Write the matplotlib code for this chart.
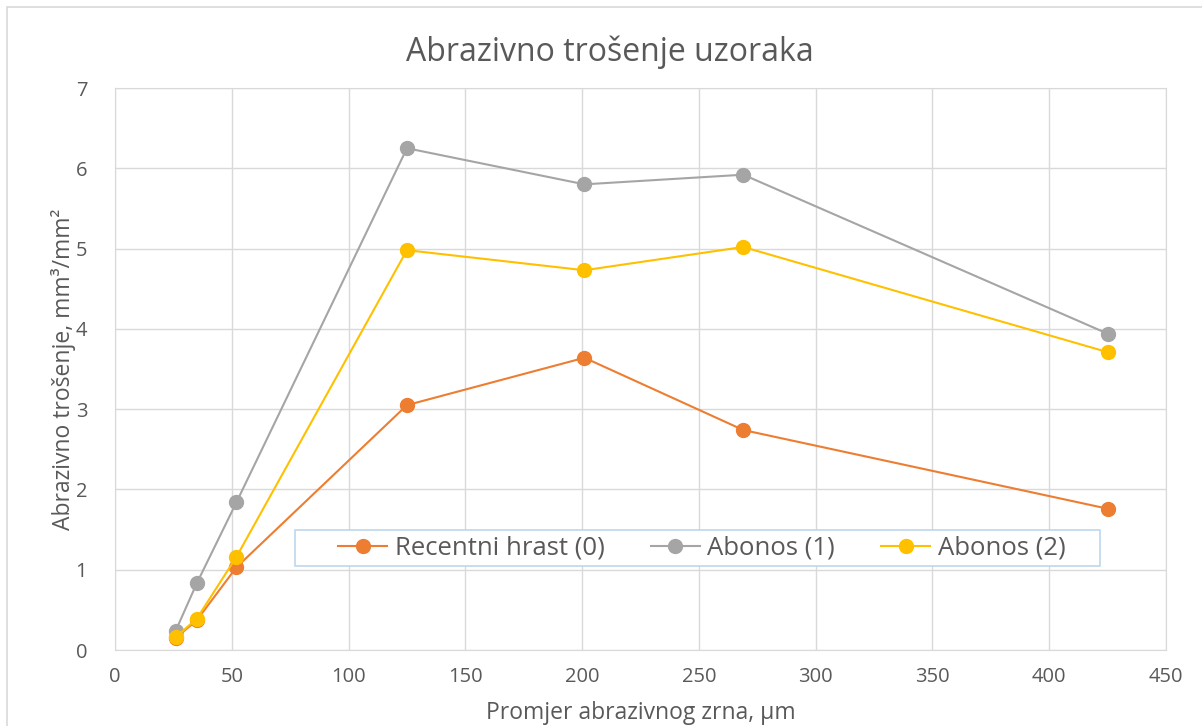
import matplotlib
matplotlib.use("Agg")
import matplotlib.pyplot as plt
from matplotlib.patches import Rectangle

plt.rcParams['font.family'] = ['Open Sans', 'DejaVu Sans']

# data
grain = [26, 35, 52, 125, 201, 269, 425]
hrast = [0.15, 0.37, 1.03, 3.05, 3.64, 2.74, 1.76]
abonos1 = [0.24, 0.83, 1.84, 6.25, 5.80, 5.92, 3.94]
abonos2 = [0.16, 0.39, 1.16, 4.98, 4.73, 5.02, 3.71]
names = ["Recentni hrast (0)", "Abonos (1)", "Abonos (2)"]
colors = ["#ed7d31", "#a5a5a5", "#ffc000"]
x_ticks = list(range(0, 451, 50))
y_ticks = list(range(0, 8))

fig = plt.figure(figsize=(12.02, 7.26), dpi=100)
ax = fig.add_axes([115/1202, 1-650/726, (1166-115)/1202, (650-88)/726])

# outer chart border
fig.patches.append(Rectangle((7/1202, -0.1), 1.2, 1 - 7/726 + 0.1, transform=fig.transFigure,
                             fill=False, edgecolor="#d9d9d9", lw=1.2))

grid_c = "#d9d9d9"
for ys, c, n in zip([hrast, abonos1, abonos2], colors, names):
    ax.plot(grain, ys, color=c, lw=1.5, marker="o", ms=10, label=n, zorder=3)

ax.set_xlim(0, 450)
ax.set_ylim(0, 7)
ax.set_xticks(x_ticks)
ax.set_yticks(y_ticks)
ax.grid(True, color=grid_c, lw=1)
for s in ax.spines.values():
    s.set_color(grid_c)
ax.tick_params(length=0, labelsize=14.5, labelcolor="#595959")
ax.tick_params(axis="x", pad=12)
ax.tick_params(axis="y", pad=20)

ax.set_xlabel("Promjer abrazivnog zrna, µm", fontsize=16.5, color="#595959", labelpad=10)
ax.set_ylabel("Abrazivno trošenje, mm³/mm²", fontsize=16.5, color="#595959", labelpad=0)
fig.text(610/1202, 1-52/726, "Abrazivno trošenje uzoraka", fontsize=23, color="#595959",
         ha="center", va="center")

# legend box drawn separately so it can be wider than its entries
ax.add_patch(Rectangle((295/1202, 1-566/726), (1100-295)/1202, 36/726,
                       transform=fig.transFigure, facecolor="white",
                       edgecolor="#bdd7ee", lw=1.2, zorder=4, clip_on=False))
leg = ax.legend(loc="center", bbox_to_anchor=(702/1202, 1-548/726),
                bbox_transform=fig.transFigure, ncol=3, fontsize=18.5,
                frameon=False, borderpad=0.1, borderaxespad=0,
                handlelength=1.9, handletextpad=0.3, columnspacing=1.8,
                labelcolor="#595959")
leg.set_zorder(5)

fig.savefig("out.png", dpi=100)
